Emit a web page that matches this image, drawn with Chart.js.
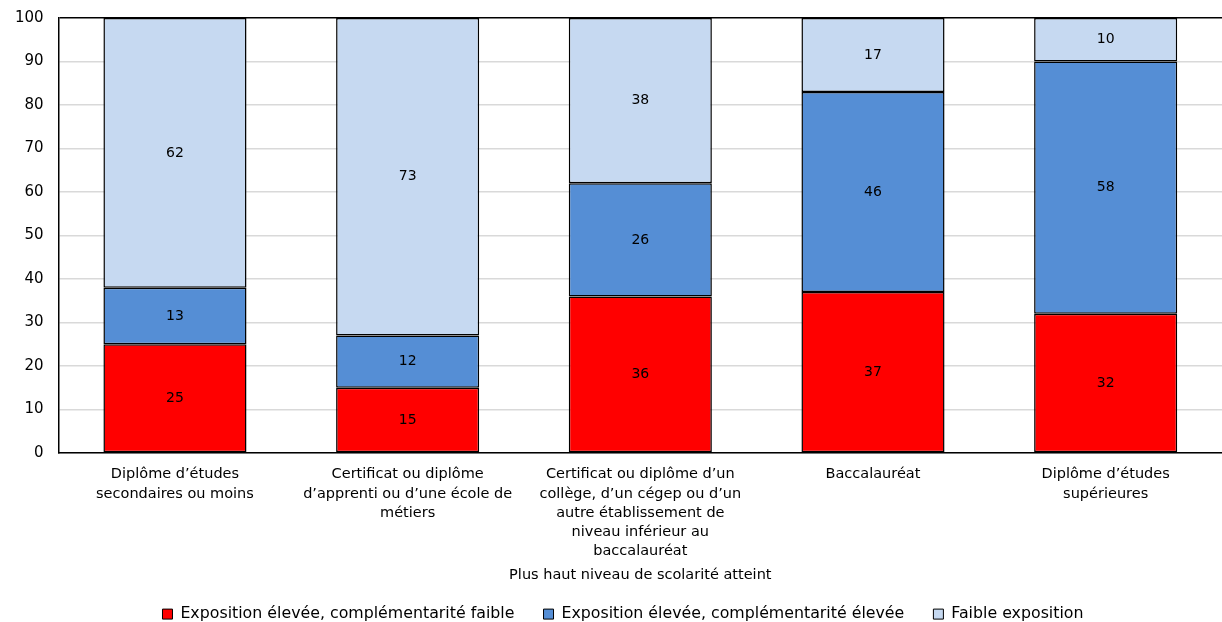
<!DOCTYPE html>
<html lang="fr">
<head>
  <meta charset="utf-8">
  <title>Exposition selon le niveau de scolarité</title>
  <script src="https://cdn.jsdelivr.net/npm/chart.js@4.4.1/dist/chart.umd.min.js"></script>
  <style>
    html, body { margin: 0; padding: 0; background: #fff; }
    #wrap { position: relative; width: 1222px; height: 622px; }
  </style>
</head>
<body>
  <div id="wrap"><canvas id="chart"></canvas></div>

  <script>
    var categories = [
      ['Diplôme d’études', 'secondaires ou moins'],
      ['Certificat ou diplôme', 'd’apprenti ou d’une école de', 'métiers'],
      ['Certificat ou diplôme d’un', 'collège, d’un cégep ou d’un', 'autre établissement de', 'niveau inférieur au', 'baccalauréat'],
      ['Baccalauréat'],
      ['Diplôme d’études', 'supérieures']
    ];
    var seriesNames = [
      'Exposition élevée, complémentarité faible',
      'Exposition élevée, complémentarité élevée',
      'Faible exposition'
    ];
    var eleveeFaible = [25, 15, 36, 37, 32];
    var eleveeElevee = [13, 12, 26, 46, 58];
    var faibleExpo = [62, 73, 38, 17, 10];
    var yTicks = [0, 10, 20, 30, 40, 50, 60, 70, 80, 90, 100];

    var FONT = 'DejaVu Sans, Verdana, sans-serif';

    // valeurs inscrites au centre de chaque segment
    var segmentLabels = {
      id: 'segmentLabels',
      afterDatasetsDraw: function (chart) {
        var ctx = chart.ctx;
        ctx.save();
        ctx.font = '14px ' + FONT;
        ctx.fillStyle = '#000';
        ctx.textAlign = 'center';
        ctx.textBaseline = 'middle';
        chart.data.datasets.forEach(function (ds, i) {
          chart.getDatasetMeta(i).data.forEach(function (bar, j) {
            var p = bar.getProps(['x', 'y', 'base'], true);
            ctx.fillText(ds.data[j], p.x, (p.y + p.base) / 2);
          });
        });
        ctx.restore();
      }
    };

    // décale un peu la légende vers la droite
    var legendShift = {
      id: 'legendShift',
      afterLayout: function (chart) {
        if (chart.legend) chart.legend.left += 24;
      }
    };

    function bars(label, data, color) {
      return {
        label: label,
        data: data,
        backgroundColor: color,
        borderColor: '#000',
        borderWidth: 1.5,
        borderSkipped: false,
        barPercentage: 0.615,
        categoryPercentage: 1
      };
    }

    new Chart(document.getElementById('chart'), {
      type: 'bar',
      data: {
        labels: categories,
        datasets: [
          bars(seriesNames[0], eleveeFaible, '#ff0000'),
          bars(seriesNames[1], eleveeElevee, '#558ed5'),
          bars(seriesNames[2], faibleExpo, '#c6d9f1')
        ]
      },
      options: {
        responsive: true,
        maintainAspectRatio: false,
        animation: false,
        layout: { padding: { top: 4, right: 0, left: 0, bottom: -10 } },
        plugins: {
          legend: {
            position: 'bottom',
            labels: {
              boxWidth: 10,
              boxHeight: 10,
              padding: 4,
              color: '#000',
              font: { family: FONT, size: 15.8 },
              generateLabels: function (chart) {
                var n = chart.data.datasets.length;
                return chart.data.datasets.map(function (ds, i) {
                  // espaces de fin pour écarter les entrées sans agrandir la hauteur
                  return {
                    text: i < n - 1 ? ds.label + '     ' : ds.label,
                    fillStyle: ds.backgroundColor,
                    strokeStyle: '#000',
                    lineWidth: 1,
                    datasetIndex: i
                  };
                });
              }
            }
          },
          tooltip: { enabled: false }
        },
        scales: {
          x: {
            stacked: true,
            grid: { display: false, drawTicks: false },
            border: { color: '#000', width: 1.5 },
            ticks: {
              color: '#000',
              padding: 12,
              maxRotation: 0,
              autoSkip: false,
              font: { family: FONT, size: 14.5, lineHeight: 1.32 }
            },
            title: {
              display: true,
              text: 'Plus haut niveau de scolarité atteint',
              color: '#000',
              font: { family: FONT, size: 14.5 },
              padding: { top: -6, bottom: 18 }
            }
          },
          y: {
            stacked: true,
            min: 0,
            max: 100,
            afterBuildTicks: function (axis) {
              axis.ticks = yTicks.map(function (v) { return { value: v }; });
            },
            afterFit: function (axis) {
              axis.paddingTop = 18;
            },
            grid: {
              drawTicks: false,
              lineWidth: 1.5,
              color: function (c) {
                return c.tick && c.tick.value === 100 ? '#000' : '#d9d9d9';
              }
            },
            border: { color: '#000', width: 1.5 },
            ticks: {
              color: '#000',
              padding: 15,
              font: { family: FONT, size: 15 }
            }
          }
        }
      },
      plugins: [segmentLabels, legendShift]
    });
  </script>
</body>
</html>
